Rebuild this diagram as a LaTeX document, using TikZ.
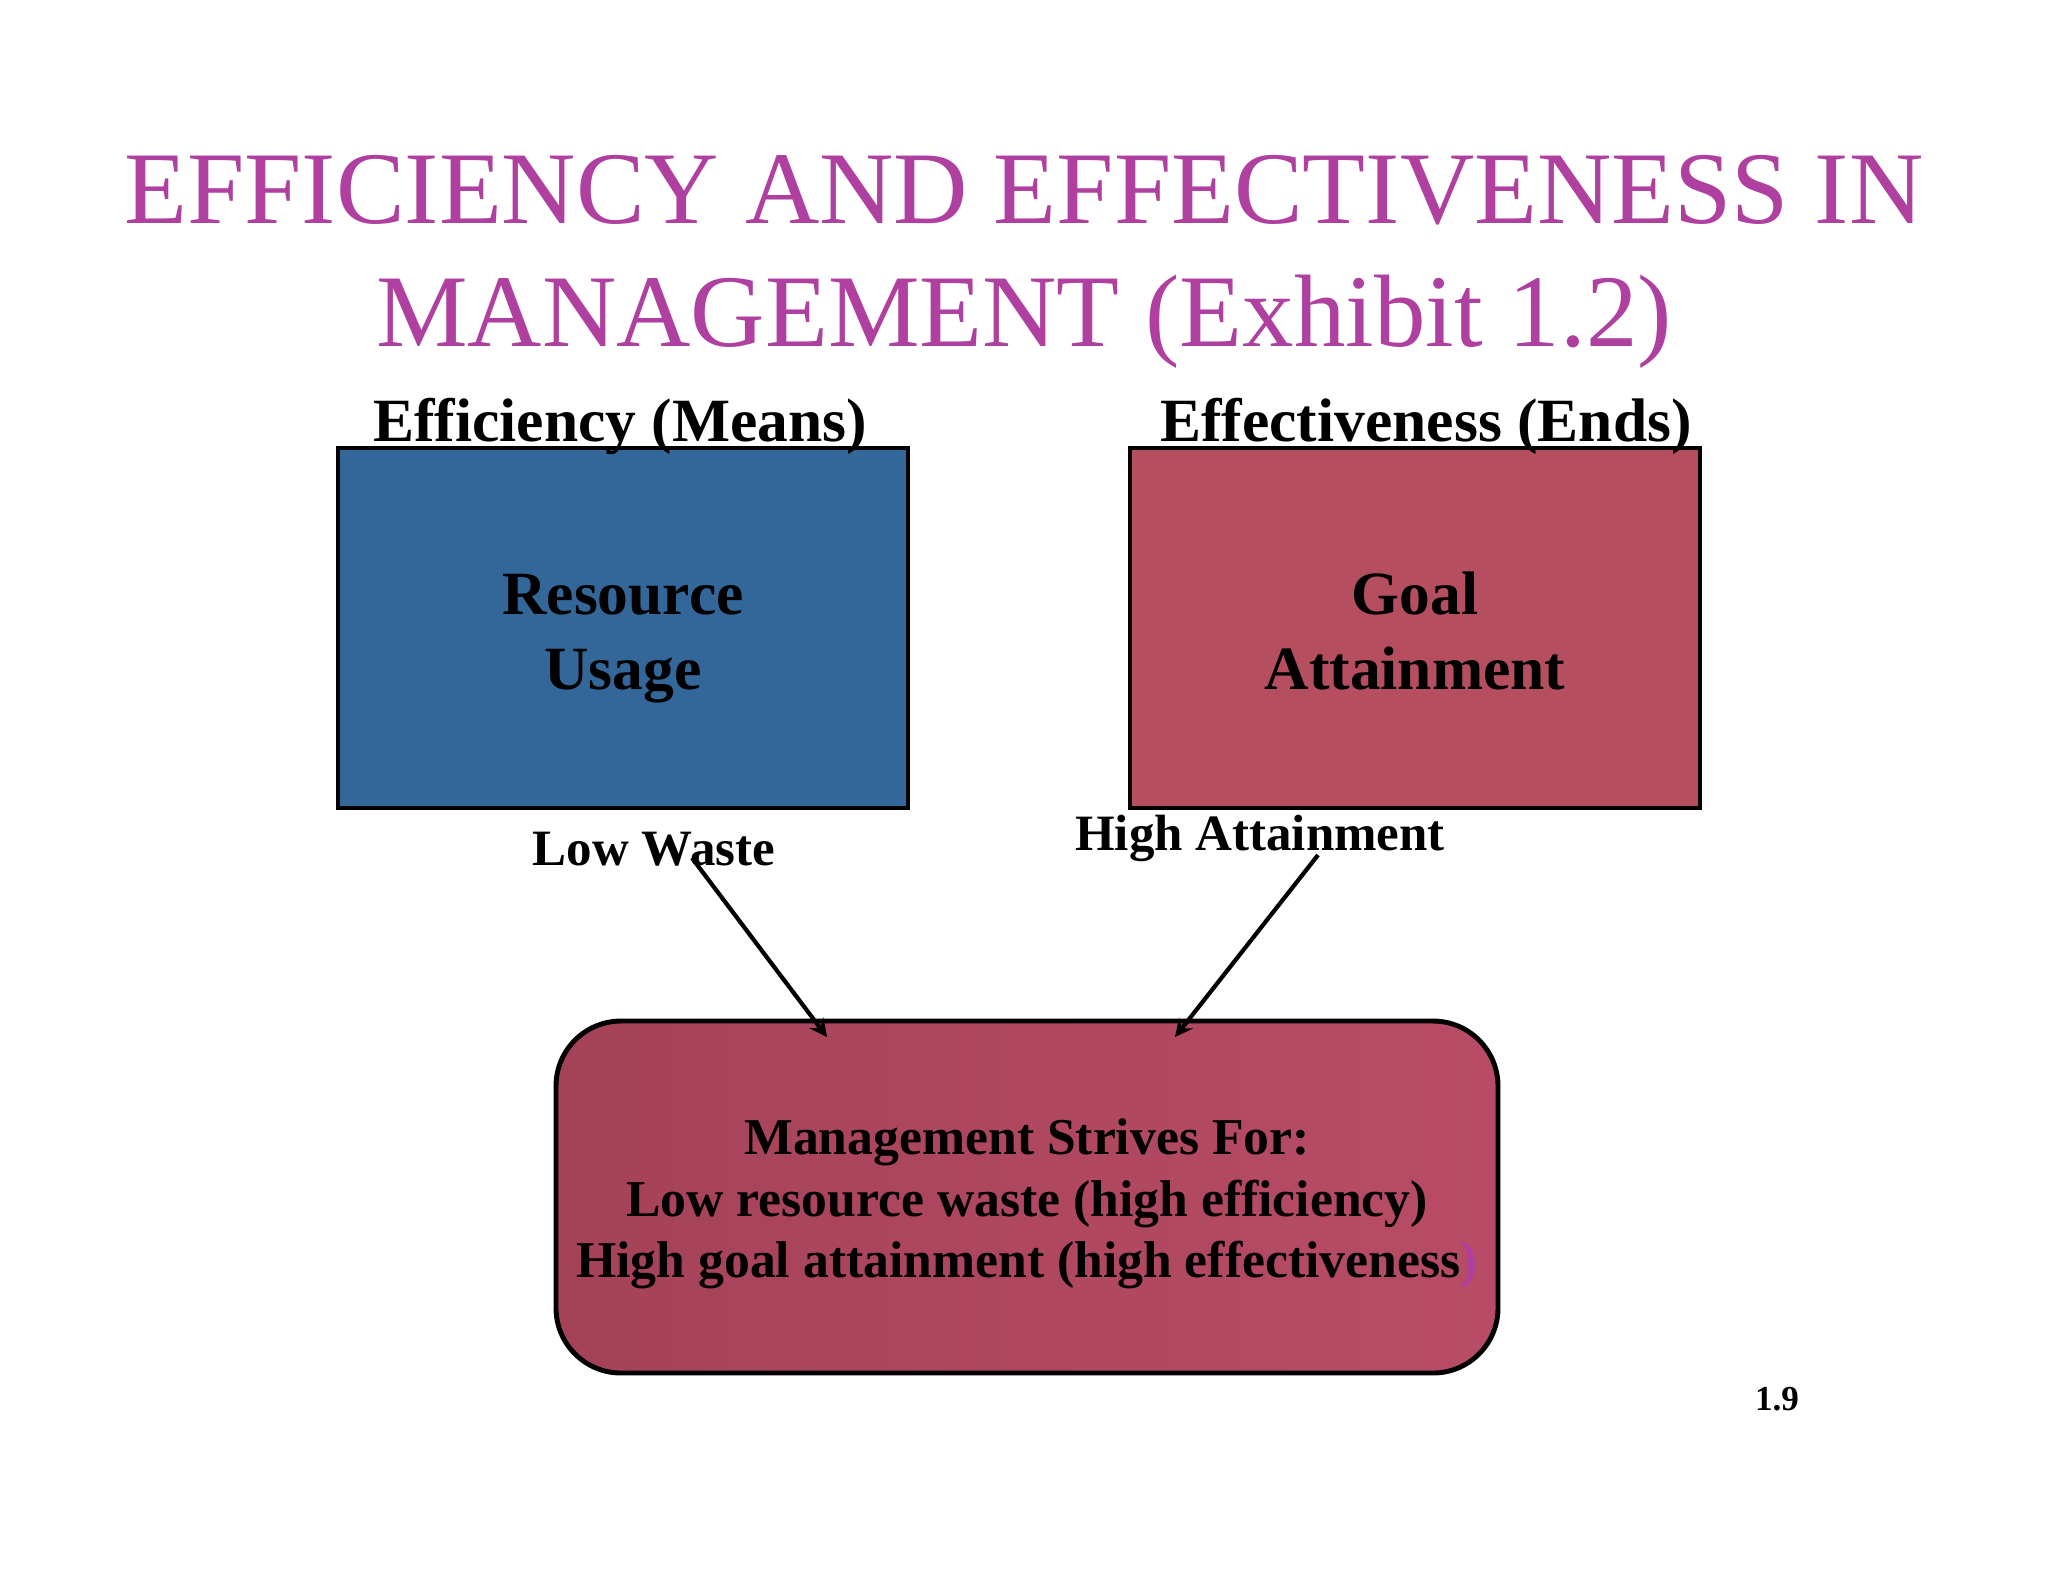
\documentclass[tikz,border=0pt]{standalone}
\usepackage{fontspec}
\setmainfont{Liberation Serif}
\usetikzlibrary{arrows, positioning, calc}
\definecolor{titlepurple}{RGB}{176,64,160}
\definecolor{meansblue}{RGB}{51,102,153}
\definecolor{endsred}{RGB}{181,79,96}
\definecolor{striveleft}{RGB}{164,66,88}
\definecolor{striveright}{RGB}{184,76,102}
\tikzstyle{title} = [text=titlepurple, font=\fontsize{29.3}{34.9}\selectfont, align=center, inner sep=0pt]
\tikzstyle{heading} = [font=\bfseries\fontsize{17.5}{21}\selectfont, inner sep=0pt, anchor=base]
\tikzstyle{measure} = [rectangle, minimum width=57mm, minimum height=36mm, align=center, draw=black, line width=1.4pt, font=\bfseries\fontsize{17.5}{21.3}\selectfont, text height=34.8pt, text depth=0pt]
\tikzstyle{tag} = [font=\bfseries\fontsize{14.5}{17}\selectfont, inner sep=0pt, anchor=base]
\tikzstyle{strive} = [rectangle, rounded corners=6.5mm, minimum width=94.2mm, minimum height=35.2mm, align=center, draw=black, line width=1.4pt, left color=striveleft, right color=striveright, font=\bfseries\fontsize{14.7}{17.6}\selectfont, text height=46pt, text depth=0pt]
\tikzstyle{arrow} = [line width=1.2pt,->,>=stealth]
\begin{document}
\begin{tikzpicture}[x=0.1mm, y=-0.1mm]
    \useasboundingbox [fill=white] (0,0) rectangle (2048,1582);
    \node (title) [title] at (1024,262) {EFFICIENCY AND EFFECTIVENESS IN\\MANAGEMENT (Exhibit 1.2)};

    \node (resource_usage) [measure, fill=meansblue] at (623,628) {Resource\\Usage};
    \node (goal_attainment) [measure, fill=endsred] at (1415,628) {Goal\\Attainment};
    \node (means) [heading] at (620,441) {Efficiency (Means)};
    \node (ends) [heading] at (1426,441) {Effectiveness (Ends)};

    \node (low_waste) [tag] at (654,865) {Low Waste};
    \node (high_attainment) [tag] at (1260,850) {High Attainment};

    \node (strives) [strive] at (1027,1197) {Management Strives For:\\Low resource waste (high efficiency)\\High goal attainment (high effectiveness\textcolor{titlepurple}{)}};
    \node (page_number) [font=\bfseries\fontsize{10}{12}\selectfont, anchor=base] at (1777,1410) {1.9};

    \coordinate (waste_tail) at (692,858);
    \coordinate (waste_head) at (827,1037);
    \coordinate (attainment_tail) at (1318,855);
    \coordinate (attainment_head) at (1175,1037);
    \draw [arrow] (waste_tail) -- (waste_head);
    \draw [arrow] (attainment_tail) -- (attainment_head);
\end{tikzpicture}
\end{document}
